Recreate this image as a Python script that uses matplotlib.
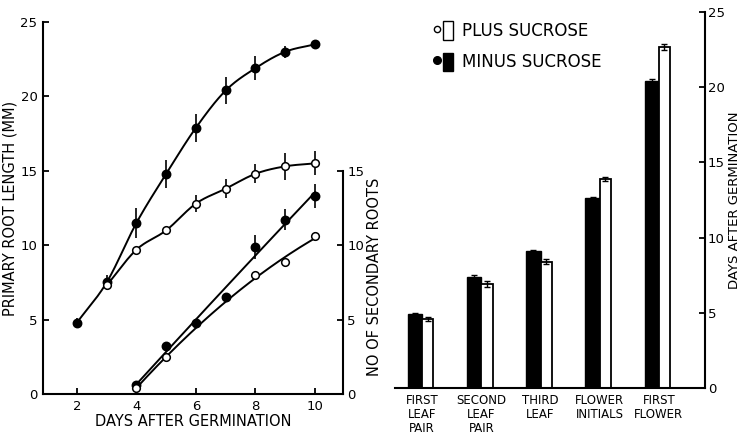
import numpy as np
import matplotlib
matplotlib.use("Agg")
import matplotlib.pyplot as plt
from matplotlib.lines import Line2D
from matplotlib.patches import Patch
from matplotlib.legend_handler import HandlerTuple

plt.rcParams["font.family"] = ["DejaVu Sans"]

# ======================================
# DATA
# ======================================
# primary root length (mm)
days_minus_root = [2, 3, 4, 5, 6, 7, 8, 9, 10]
minus_root = [4.8, 7.5, 11.5, 14.8, 17.9, 20.4, 21.9, 23.0, 23.5]
minus_root_err = [0.3, 0.5, 1.0, 0.95, 0.95, 0.9, 0.8, 0.4, 0.0]

days_plus_root = [3, 4, 5, 6, 7, 8, 9, 10]
plus_root = [7.3, 9.7, 11.0, 12.8, 13.8, 14.8, 15.3, 15.5]
plus_root_err = [0.0, 0.0, 0.0, 0.55, 0.65, 0.65, 0.9, 0.8]

# number of secondary roots
days_minus_sec = [4, 5, 6, 7, 8, 9, 10]
minus_sec = [0.6, 3.2, 4.8, 6.5, 9.9, 11.7, 13.3]
minus_sec_err = [0.0, 0.0, 0.0, 0.0, 0.8, 0.7, 0.8]

days_plus_sec = [4, 5, 8, 9, 10]
plus_sec = [0.4, 2.5, 8.0, 8.9, 10.6]
plus_sec_err = [0.0, 0.0, 0.0, 0.0, 0.3]

# developmental stages (days after germination)
stages = ["FIRST\nLEAF\nPAIR", "SECOND\nLEAF\nPAIR", "THIRD\nLEAF",
          "FLOWER\nINITIALS", "FIRST\nFLOWER"]
stage_minus = [4.9, 7.4, 9.1, 12.6, 20.4]
stage_plus = [4.6, 6.9, 8.4, 13.9, 22.7]
stage_minus_err = [0.1, 0.1, 0.1, 0.1, 0.15]
stage_plus_err = [0.15, 0.2, 0.15, 0.15, 0.2]


def through(x, y, n=30):
    # smooth cubic hermite curve passing through the points
    x = np.asarray(x, float)
    y = np.asarray(y, float)
    m = np.gradient(y, x)
    xs, ys = [], []
    for i in range(len(x) - 1):
        h = x[i + 1] - x[i]
        t = np.linspace(0, 1, n)
        h00 = 2 * t**3 - 3 * t**2 + 1
        h10 = t**3 - 2 * t**2 + t
        h01 = -2 * t**3 + 3 * t**2
        h11 = t**3 - t**2
        xs.append(x[i] + t * h)
        ys.append(h00 * y[i] + h10 * h * m[i] + h01 * y[i + 1] + h11 * h * m[i + 1])
    return np.concatenate(xs), np.concatenate(ys)


def fitted(x, y, deg=2, n=200):
    coef = np.polyfit(x, y, deg)
    xs = np.linspace(min(x), max(x), n)
    return xs, np.polyval(coef, xs)


fig = plt.figure(figsize=(7.44, 4.37), dpi=100)

# ======================================
# LEFT PANEL - root growth
# ======================================
ax = fig.add_axes([43 / 744, 43 / 437, 300 / 744, 372 / 437])
ax2 = ax.twinx()

lw = 1.4

series = [
    (days_minus_root, minus_root, minus_root_err, True, through, ax),
    (days_plus_root, plus_root, plus_root_err, False, through, ax),
    (days_minus_sec, minus_sec, minus_sec_err, True, fitted, ax2),
    (days_plus_sec, plus_sec, plus_sec_err, False, fitted, ax2),
]
for xs, ys, err, filled, curve, a in series:
    cx, cy = curve(xs, ys)
    a.plot(cx, cy, color="black", lw=lw, zorder=2)
    a.errorbar(xs, ys, yerr=err, fmt="none", ecolor="black", elinewidth=1.2,
               capsize=0, zorder=3)
    a.plot(xs, ys, "o", ms=6 if filled else 5.5,
           mfc="black" if filled else "white", mec="black", mew=1.1,
           ls="none", zorder=4)

for a in (ax, ax2):
    a.set_xlim(0.86, 10.94)
    a.set_ylim(0, 25)
    a.spines["top"].set_visible(False)
    for s in a.spines.values():
        s.set_linewidth(1.5)

ax.spines["right"].set_visible(False)
ax2.spines["left"].set_visible(False)
ax2.spines["bottom"].set_visible(False)
ax2.spines["right"].set_bounds(0, 15)

ax.set_xticks([2, 4, 6, 8, 10])
ax.set_yticks([0, 5, 10, 15, 20, 25])
ax2.set_yticks([0, 5, 10, 15])
ax.tick_params(direction="in", length=4, width=1.3, labelsize=9.5, pad=4)
ax2.tick_params(direction="in", length=4, width=1.3, labelsize=9.5, pad=3)

ax.set_xlabel("DAYS AFTER GERMINATION", fontsize=10.5, labelpad=1)
ax.set_ylabel("PRIMARY ROOT LENGTH (MM)", fontsize=10.5, labelpad=2)
ax2.set_ylabel("NO OF SECONDARY ROOTS", fontsize=10.5)
ax2.yaxis.set_label_coords(1.08, 0.315)

# ======================================
# RIGHT PANEL - developmental stages
# ======================================
bx = fig.add_axes([395 / 744, 49 / 437, 310 / 744, 376 / 437])
pos = np.arange(len(stages))
wb, ww = 0.24, 0.19

bx.bar(pos, stage_minus, width=-wb, align="edge", color="black",
       edgecolor="black", lw=1.0, zorder=2)
bx.bar(pos, stage_plus, width=ww, align="edge", color="white",
       edgecolor="black", lw=1.3, zorder=2)
bx.errorbar(pos - wb / 2, stage_minus, yerr=stage_minus_err, fmt="none",
            ecolor="black", elinewidth=1, capsize=2, zorder=3)
bx.errorbar(pos + ww / 2, stage_plus, yerr=stage_plus_err, fmt="none",
            ecolor="black", elinewidth=1, capsize=2.5, zorder=3)

bx.set_xlim(-0.46, 4.78)
bx.set_ylim(0, 25)
bx.spines["top"].set_visible(False)
bx.spines["left"].set_visible(False)
for s in bx.spines.values():
    s.set_linewidth(1.5)
bx.yaxis.tick_right()
bx.yaxis.set_label_position("right")
bx.set_yticks([0, 5, 10, 15, 20, 25])
bx.set_xticks(pos)
bx.set_xticklabels(stages, fontsize=8.5, linespacing=1.1, va="top")
bx.tick_params(axis="x", length=0, pad=4)
bx.tick_params(axis="y", direction="in", length=4, width=1.3,
               labelsize=9.5, pad=2)
bx.set_ylabel("DAYS AFTER GERMINATION", fontsize=9.5)
bx.yaxis.set_label_coords(1.074, 0.5)

# legend: circle + bar for each treatment
h_plus = (Line2D([], [], marker="o", ls="none", ms=4.5, mfc="white",
                 mec="black", mew=1),
          Patch(facecolor="white", edgecolor="black", lw=1))
h_minus = (Line2D([], [], marker="o", ls="none", ms=5.5, mfc="black",
                  mec="black"),
           Patch(facecolor="black", edgecolor="black"))
bx.legend([h_plus, h_minus], ["PLUS SUCROSE", "MINUS SUCROSE"],
          handler_map={tuple: HandlerTuple(ndivide=None, pad=0.1)},
          loc="upper left", bbox_to_anchor=(0.07, 1.015), frameon=False,
          fontsize=12, handlelength=1.3, handleheight=1.3,
          handletextpad=0.5, labelspacing=0.75)

plt.savefig("out.png", dpi=100)
plt.close()
